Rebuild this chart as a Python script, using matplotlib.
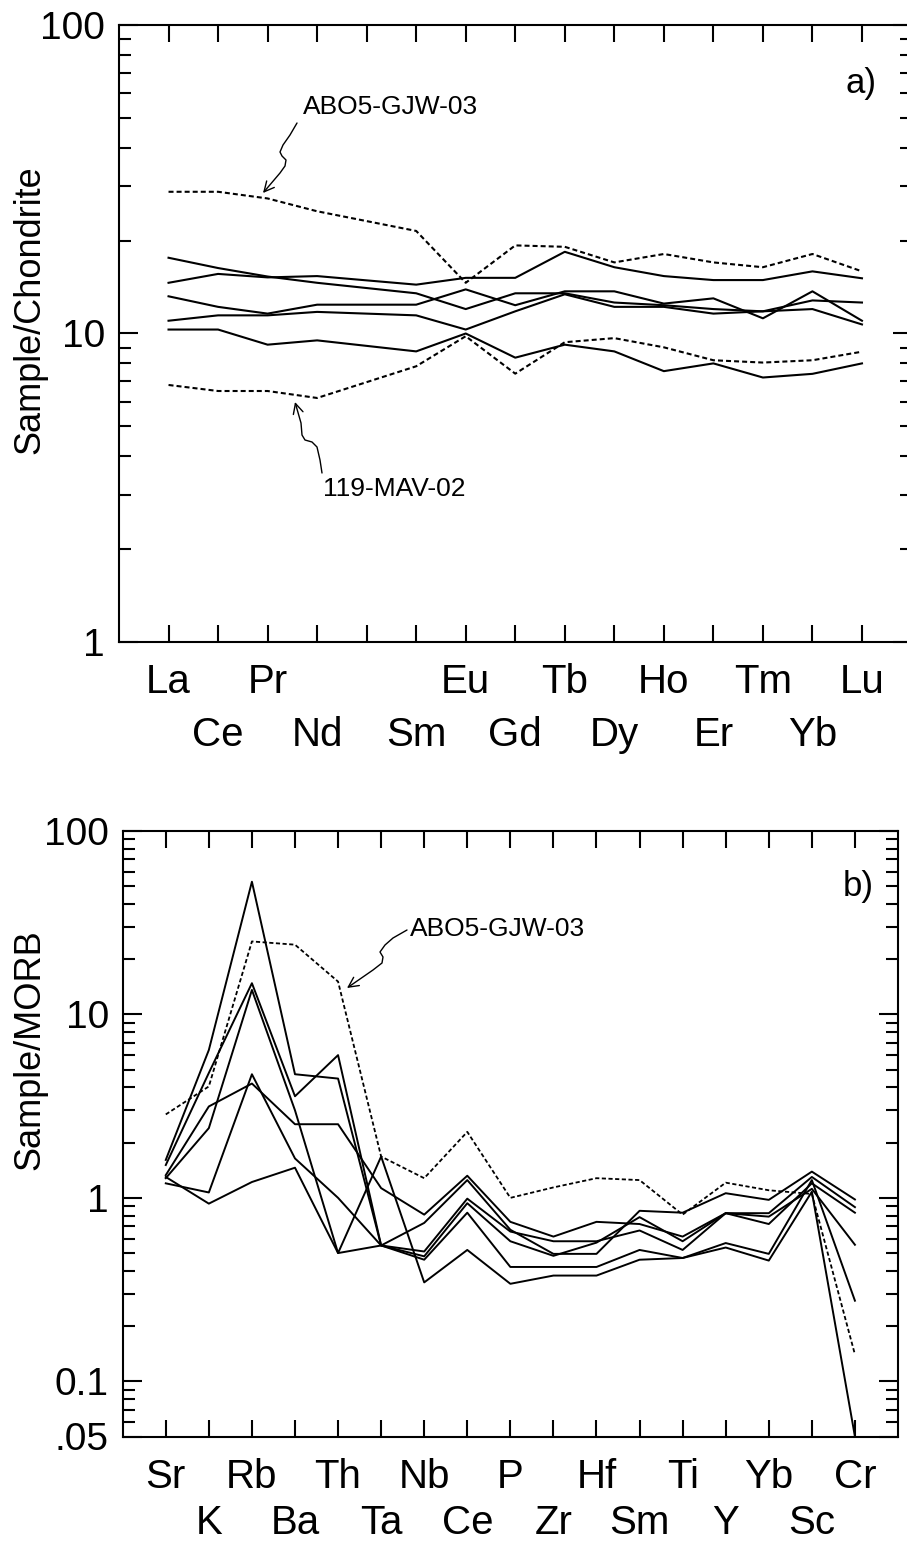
import numpy as np
import matplotlib
matplotlib.use('Agg')
import matplotlib.pyplot as plt
from matplotlib.ticker import FixedLocator, FixedFormatter, LogLocator, NullFormatter
from matplotlib.patches import FancyArrowPatch
from matplotlib.path import Path

plt.rcParams['font.family'] = ['Liberation Sans', 'DejaVu Sans']
plt.rcParams['lines.scale_dashes'] = False

# --- a) REE, chondrite normalised (Pm keeps its slot on the axis, no data) ---
ree_axis = ['La', 'Ce', 'Pr', 'Nd', 'Pm', 'Sm', 'Eu', 'Gd', 'Tb', 'Dy', 'Ho', 'Er', 'Tm', 'Yb', 'Lu']
ree = ['La', 'Ce', 'Pr', 'Nd', 'Sm', 'Eu', 'Gd', 'Tb', 'Dy', 'Ho', 'Er', 'Tm', 'Yb', 'Lu']
ree_abo5 = [28.8, 28.8, 27.4, 24.9, 21.5, 14.6, 19.3, 19.1, 17.0, 18.1, 17.0, 16.4, 18.1, 15.9]
ree_119mav = [6.81, 6.51, 6.51, 6.18, 7.83, 9.80, 7.41, 9.37, 9.66, 9.02, 8.19, 8.05, 8.19, 8.73]
ree_s1 = [17.6, 16.3, 15.3, 14.6, 13.5, 12.0, 13.5, 13.5, 12.6, 12.35, 12.0, 11.8, 12.8, 12.6]
ree_s2 = [14.6, 15.6, 15.2, 15.35, 14.4, 15.15, 15.15, 18.4, 16.4, 15.35, 14.9, 14.9, 15.9, 15.1]
ree_s3 = [13.2, 12.2, 11.6, 12.4, 12.4, 13.9, 12.35, 13.7, 13.7, 12.5, 13.0, 11.2, 13.7, 11.0]
ree_s4 = [11.0, 11.45, 11.45, 11.75, 11.45, 10.3, 11.8, 13.4, 12.2, 12.2, 11.6, 11.8, 12.0, 10.7]
ree_s5 = [10.3, 10.3, 9.2, 9.5, 8.75, 10.0, 8.35, 9.2, 8.75, 7.55, 8.0, 7.2, 7.4, 8.0]

# --- b) MORB normalised spidergram ---
spider = ['Sr', 'K', 'Rb', 'Ba', 'Th', 'Ta', 'Nb', 'Ce', 'P', 'Zr', 'Hf', 'Sm', 'Ti', 'Y', 'Yb', 'Sc', 'Cr']
sp_abo5 = [2.85, 4.05, 25.0, 24.0, 15.1, 1.68, 1.28, 2.29, 1.0, 1.14, 1.28, 1.25, 0.81, 1.21, 1.10, 1.05, 0.14]
sp_s1 = [1.61, 6.4, 52.9, 4.72, 4.47, 0.55, 0.73, 1.25, 0.67, 0.495, 0.495, 0.85, 0.83, 1.06, 0.975, 1.39, 0.98]
sp_s2 = [1.51, 4.8, 14.8, 3.58, 6.0, 0.55, 0.51, 0.99, 0.655, 0.58, 0.58, 0.664, 0.52, 0.825, 0.72, 1.2, 0.83]
sp_s3 = [1.28, 2.4, 13.6, 3.0, 0.5, 1.68, 0.346, 0.52, 0.34, 0.377, 0.377, 0.46, 0.47, 0.536, 0.455, 1.08, 0.05]
sp_s4 = [1.33, 3.15, 4.2, 2.52, 2.52, 1.13, 0.81, 1.32, 0.74, 0.615, 0.74, 0.72, 0.615, 0.825, 0.825, 1.3, 0.89]
sp_s5 = [1.20, 1.07, 4.72, 1.64, 1.0, 0.55, 0.48, 0.935, 0.58, 0.483, 0.57, 0.785, 0.58, 0.825, 0.79, 1.12, 0.555]
sp_s6 = [1.30, 0.93, 1.22, 1.46, 0.5, 0.55, 0.46, 0.83, 0.42, 0.42, 0.42, 0.52, 0.47, 0.567, 0.495, 1.25, 0.275]

W, H = 907, 1543
fig = plt.figure(figsize=(W / 100, H / 100), dpi=100)


def px(x, y):
    # pixel position (from top-left) -> figure fraction
    return (x / W, 1 - y / H)


def box(left, top, right, bottom):
    return [left / W, 1 - bottom / H, (right - left) / W, (bottom - top) / H]


def setup(ax, names, ylim, yticks, ylabels, rows=(21, 74)):
    ax.set_yscale('log')
    ax.set_ylim(*ylim)
    ax.set_xlim(0, len(names) + 1)
    ax.set_xticks(np.arange(1, len(names) + 1))
    ax.set_xticklabels([])
    # element names staggered on two rows under the axis (offsets in pixels)
    for i, n in enumerate(names):
        if n == 'Pm':
            continue
        off = rows[i % 2]
        ax.annotate(n, xy=(i + 1, 0), xycoords=('data', 'axes fraction'),
                    xytext=(0, -off * 0.72), textcoords='offset points',
                    ha='center', va='top', fontsize=29)
    ax.yaxis.set_major_locator(FixedLocator(yticks))
    ax.yaxis.set_major_formatter(FixedFormatter(ylabels))
    ax.yaxis.set_minor_locator(LogLocator(base=10, subs=np.arange(2, 10), numticks=20))
    ax.yaxis.set_minor_formatter(NullFormatter())
    ax.tick_params(which='both', direction='in', top=True, right=True, width=1.5, color='black')
    ax.tick_params(axis='x', which='major', length=12)
    ax.tick_params(axis='y', which='major', length=14, labelsize=28, pad=10)
    ax.tick_params(axis='y', which='minor', length=8.5)
    for s in ax.spines.values():
        s.set_linewidth(1.5)


def squiggle(points):
    pts = [px(x, y) for x, y in points]
    arr = FancyArrowPatch(path=Path(pts), arrowstyle='->', mutation_scale=18,
                          transform=fig.transFigure, lw=1.0, color='black')
    fig.add_artist(arr)


dash = (0, (3.6, 2.2))

# top panel
ax1 = fig.add_axes(box(119, 25, 911.5, 642))
setup(ax1, ree_axis, (1, 100), [1, 10, 100], ['1', '10', '100'])
xr = [ree_axis.index(e) + 1 for e in ree]
for vals in [ree_s1, ree_s2, ree_s3, ree_s4, ree_s5]:
    ax1.plot(xr, vals, color='black', lw=1.5)
ax1.plot(xr, ree_abo5, color='black', lw=1.5, ls=dash)
ax1.plot(xr, ree_119mav, color='black', lw=1.5, ls=dash)

# bottom panel
ax2 = fig.add_axes(box(122.7, 831, 898, 1436.5))
setup(ax2, spider, (0.05, 100), [0.05, 0.1, 1, 10, 100], ['.05', '0.1', '1', '10', '100'],
      rows=(21, 68))
xs = np.arange(1, len(spider) + 1)
for vals in [sp_s1, sp_s2, sp_s3, sp_s4, sp_s5, sp_s6]:
    ax2.plot(xs, vals, color='black', lw=1.4)
ax2.plot(xs, sp_abo5, color='black', lw=1.3, ls=(0, (3.0, 1.8)))

# axis titles and panel letters
fig.text(*px(30, 310), 'Sample/Chondrite', rotation=90, ha='center', va='center', fontsize=26)
fig.text(*px(30, 1050), 'Sample/MORB', rotation=90, ha='center', va='center', fontsize=26)
fig.text(*px(861, 84), 'a)', ha='center', va='center', fontsize=25)
fig.text(*px(858, 887), 'b)', ha='center', va='center', fontsize=25)

# sample annotations with wavy arrows
fig.text(*px(303, 107), 'ABO5-GJW-03', ha='left', va='center', fontsize=19)
squiggle([(297, 123), (290, 135), (283, 145), (280, 152), (282, 156), (286, 160),
          (285, 166), (280, 173), (263, 193)])
fig.text(*px(323, 489), '119-MAV-02', ha='left', va='center', fontsize=19)
squiggle([(322, 473), (320, 460), (317, 447), (312, 442), (305, 440), (302, 435),
          (301, 423), (295, 402)])
fig.text(*px(410, 929), 'ABO5-GJW-03', ha='left', va='center', fontsize=19)
squiggle([(407, 930), (393, 938), (385, 945), (380, 952), (383, 957), (382, 963),
          (373, 970), (347, 988)])

fig.savefig('out.png', dpi=100)
